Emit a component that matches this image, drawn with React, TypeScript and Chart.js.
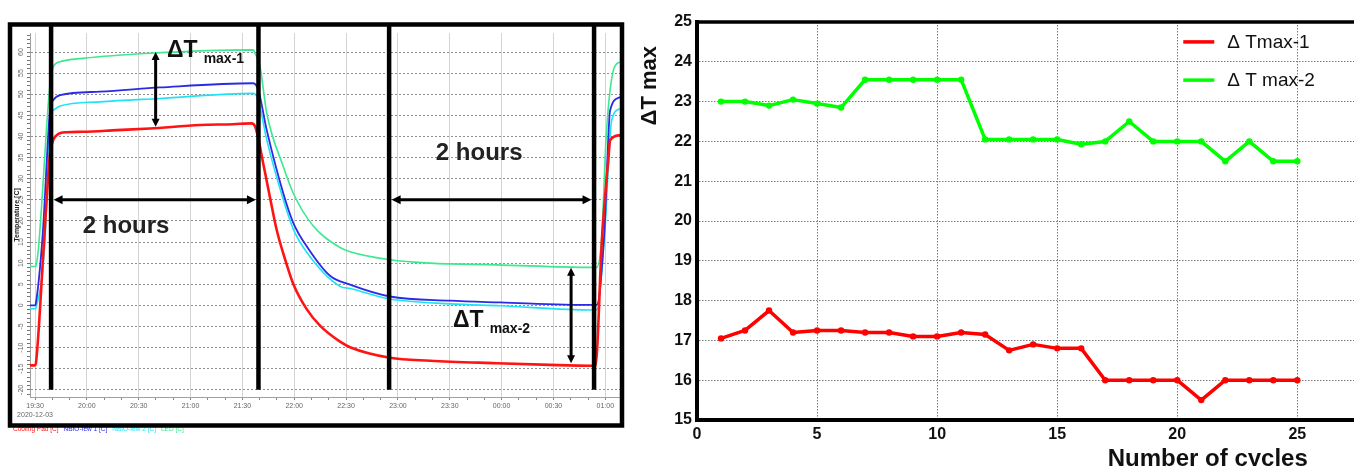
import React, { useEffect, useRef } from 'react';
import { Chart, registerables } from 'chart.js';

Chart.register(...registerables);

const FONT = '"Liberation Sans", Arial, Helvetica, sans-serif';
const NARROW = '"Liberation Sans Narrow", "Liberation Sans", Arial, sans-serif';

// ---------- Left panel: temperature log (minutes after 19:30) ----------
const timeTickMinutes = [0, 30, 60, 90, 120, 150, 180, 210, 240, 270, 300, 330];
const timeTickLabels = ['19:30', '20:00', '20:30', '21:00', '21:30', '22:00', '22:30', '23:00', '23:30', '00:00', '00:30', '01:00'];
const dateLabel = '2020-12-03';
const tempTicks = [-20, -15, -10, -5, 0, 5, 10, 15, 20, 25, 30, 35, 40, 45, 50, 55, 60];
const seriesNames = ['Cooling Pad [C]', 'NBIO-few 1 [C]', 'NBIO-few 2 [C]', 'LED [C]'];
const seriesColors = ['#ff1414', '#2b2be6', '#1fe3f5', '#3de890'];

const redTimes = [-2.9, 0, 0.6, 5.2, 7.5, 8.7, 10.6, 13.5, 18.3, 27.8, 47.3, 66.6, 95.5, 114.6, 125.4, 127.3, 129.2, 132.1, 136, 139.9, 145.7, 149.5, 157.2, 164.9, 176.5, 182.3, 205.4, 228.6, 267.2, 298, 322.2, 324.3, 328.1, 331.7, 332.8, 338.5];
const redTemps = [-14.2, -14.2, -13.5, 15, 30, 36, 39.2, 40.6, 41.0, 41.1, 41.5, 41.9, 42.7, 42.9, 43.1, 42.4, 39.5, 33.5, 25.5, 17.8, 9.6, 5.0, -0.9, -4.8, -8.6, -9.9, -12.4, -13.1, -13.7, -14.1, -14.3, -14.2, 16, 34.4, 39.1, 40.3];

const blueTimes = [-2.9, 0, 0.4, 4.4, 8.7, 10.6, 14.5, 37.6, 72.3, 126.3, 129.2, 134.1, 143.7, 149.5, 157.2, 170.7, 182.3, 205.4, 240.2, 269.1, 322.2, 325, 329.4, 332.8, 338.5];
const blueTemps = [0, 0, 0.3, 16.5, 46.2, 48.6, 49.8, 50.6, 51.6, 52.6, 51, 41.5, 26.5, 19.5, 14, 7, 4.9, 2.1, 1.1, 0.7, 0.1, 0.1, 17, 46.2, 49.3];

const cyanTimes = [-2.9, 0, 0.6, 5.8, 8.7, 10.6, 14.5, 37.6, 72.3, 126.3, 129.2, 134.1, 143.7, 149.5, 157.2, 176.5, 182.3, 205.4, 240.2, 269.1, 322.2, 325, 329.5, 333.7, 338.5];
const cyanTemps = [-0.8, -0.8, -0.5, 15.5, 44.7, 46.2, 47.2, 48.2, 49, 50.2, 48.6, 39.2, 25, 18, 12.6, 4.5, 4.0, 1.5, 0.35, -0.1, -1.1, -1.1, 16, 43.9, 46.6];

const greenTimes = [-2.9, 0, 0.6, 1.9, 8.7, 10.6, 14.5, 27.8, 66.6, 126.3, 127.3, 130.2, 134.1, 143.7, 149.5, 161, 176.5, 182.3, 205.4, 228.6, 267.2, 322.2, 325, 327.9, 330.5, 334.7, 338.5];
const greenTemps = [9.2, 9.2, 9.5, 13.1, 52.6, 56.5, 57.7, 58.5, 59.7, 60.5, 59.7, 56.5, 45.5, 32.8, 26.5, 18.8, 13.7, 12.7, 10.8, 10, 9.6, 9.0, 9.0, 16, 40, 55.7, 57.7];

// annotations, in data units (minutes, degC)
const phaseMarkers = [9.3, 129.3, 204.9, 323.5];
const durationArrows = [{ from: 9.3, to: 129.3, temp: 25 }, { from: 204.9, to: 323.5, temp: 25 }];
const durationLabels = [{ text: '2 hours', t: 52.7, temp: 18.8 }, { text: '2 hours', t: 257, temp: 35.9 }];
const deltaArrows = [{ t: 69.8, from: 60, to: 42.3 }, { t: 310.2, from: 8.9, to: -13.7 }];
const deltaLabels = [{ sub: 'max-1', t: 76.4, temp: 58.8 }, { sub: 'max-2', t: 241.9, temp: -5.1 }];

// ---------- Right panel: delta T max vs cycles ----------
const cycles = [1, 2, 3, 4, 5, 6, 7, 8, 9, 10, 11, 12, 13, 14, 15, 16, 17, 18, 19, 20, 21, 22, 23, 24, 25];
const dTmax1 = [17.05, 17.25, 17.75, 17.2, 17.25, 17.25, 17.2, 17.2, 17.1, 17.1, 17.2, 17.15, 16.75, 16.9, 16.8, 16.8, 16.0, 16.0, 16.0, 16.0, 15.5, 16.0, 16.0, 16.0, 16.0];
const dTmax2 = [23.0, 23.0, 22.9, 23.05, 22.95, 22.85, 23.55, 23.55, 23.55, 23.55, 23.55, 22.05, 22.05, 22.05, 22.05, 21.93, 22.0, 22.5, 22.0, 22.0, 22.0, 21.5, 22.0, 21.5, 21.5];
const cycleTicks = [0, 5, 10, 15, 20, 25];
const deltaTicks = [15, 16, 17, 18, 19, 20, 21, 22, 23, 24, 25];
const rightLabels = ['\u0394 Tmax-1', '\u0394 T max-2'];
const rightColors = ['#ff0000', '#00ff00'];

function drawArrow(ctx: CanvasRenderingContext2D, x1: number, y1: number, x2: number, y2: number, head = 9, half = 4.5) {
  const a = Math.atan2(y2 - y1, x2 - x1);
  const c = Math.cos(a), s = Math.sin(a);
  ctx.beginPath();
  ctx.moveTo(x1 + c * head * 0.8, y1 + s * head * 0.8);
  ctx.lineTo(x2 - c * head * 0.8, y2 - s * head * 0.8);
  ctx.stroke();
  const heads: [number, number, number][] = [[x1, y1, a + Math.PI], [x2, y2, a]];
  heads.forEach(([px, py, ang]) => {
    const cc = Math.cos(ang), ss = Math.sin(ang);
    ctx.beginPath();
    ctx.moveTo(px, py);
    ctx.lineTo(px - head * cc + half * ss, py - head * ss - half * cc);
    ctx.lineTo(px - head * cc - half * ss, py - head * ss + half * cc);
    ctx.closePath();
    ctx.fill();
  });
}

const leftOverlay = {
  id: 'leftOverlay',
  afterDraw(chart: any) {
    const { ctx, chartArea: area } = chart;
    const x = chart.scales.x, y = chart.scales.y;
    ctx.save();
    // bottom legend
    ctx.font = `6.5px ${NARROW}`;
    ctx.textBaseline = 'middle';
    ctx.textAlign = 'left';
    let lx = area.left - 17;
    seriesNames.forEach((n, i) => {
      ctx.fillStyle = seriesColors[i];
      ctx.fillText(n, lx, area.bottom + 32.5);
      lx += ctx.measureText(n).width + 5;
    });
    // frame
    ctx.strokeStyle = '#000';
    ctx.lineWidth = 4.5;
    const fTop = area.top - 8.5;
    ctx.strokeRect(area.left - 20, fTop, area.right - area.left + 22, area.bottom - area.top + 37);
    // phase markers
    const markBottom = y.getPixelForValue(-20);
    phaseMarkers.forEach((t) => {
      const px = x.getPixelForValue(t);
      ctx.beginPath();
      ctx.moveTo(px, fTop);
      ctx.lineTo(px, markBottom);
      ctx.stroke();
    });
    // arrows
    ctx.fillStyle = '#000';
    ctx.lineWidth = 3;
    durationArrows.forEach((d) => {
      const py = y.getPixelForValue(d.temp);
      drawArrow(ctx, x.getPixelForValue(d.from) + 2.5, py, x.getPixelForValue(d.to) - 2.5, py);
    });
    deltaArrows.forEach((d) => {
      const px = x.getPixelForValue(d.t);
      drawArrow(ctx, px, y.getPixelForValue(d.from), px, y.getPixelForValue(d.to), 8, 4);
    });
    // texts
    ctx.fillStyle = '#222';
    ctx.font = `bold 24px ${FONT}`;
    ctx.textAlign = 'center';
    ctx.textBaseline = 'middle';
    durationLabels.forEach((l) => {
      ctx.fillText(l.text, x.getPixelForValue(l.t), y.getPixelForValue(l.temp));
    });
    ctx.fillStyle = '#111';
    ctx.textAlign = 'left';
    ctx.textBaseline = 'alphabetic';
    deltaLabels.forEach((l) => {
      const px = x.getPixelForValue(l.t), py = y.getPixelForValue(l.temp);
      ctx.font = `bold 23px ${FONT}`;
      ctx.fillText('\u0394T', px, py);
      const w = ctx.measureText('\u0394T').width;
      ctx.font = `bold 14px ${FONT}`;
      ctx.fillText(l.sub, px + w + 6, py + 6);
    });
    ctx.restore();
  },
};

const rightOverlay = {
  id: 'rightOverlay',
  afterDraw(chart: any) {
    const { ctx, chartArea: area } = chart;
    const x = chart.scales.x, y = chart.scales.y;
    ctx.save();
    // top border
    ctx.strokeStyle = '#000';
    ctx.lineWidth = 3.5;
    ctx.beginPath();
    ctx.moveTo(area.left, area.top);
    ctx.lineTo(area.right, area.top);
    ctx.stroke();
    // legend
    const lx = x.getPixelForValue(20.25);
    const rows = [y.getPixelForValue(24.5), y.getPixelForValue(23.54)];
    ctx.font = `19px ${FONT}`;
    ctx.textAlign = 'left';
    ctx.textBaseline = 'middle';
    rightLabels.forEach((lab, i) => {
      ctx.strokeStyle = rightColors[i];
      ctx.lineWidth = 3.5;
      ctx.beginPath();
      ctx.moveTo(lx, rows[i]);
      ctx.lineTo(lx + 31, rows[i]);
      ctx.stroke();
      ctx.fillStyle = '#111';
      ctx.fillText(lab, lx + 44, rows[i] + 1);
    });
    // axis titles
    ctx.fillStyle = '#111';
    ctx.font = `bold 22px ${FONT}`;
    ctx.textAlign = 'center';
    ctx.textBaseline = 'middle';
    ctx.save();
    ctx.translate(area.left - 47, y.getPixelForValue(23.4));
    ctx.rotate(-Math.PI / 2);
    ctx.fillText('\u0394T max', 0, 0);
    ctx.restore();
    ctx.font = `bold 24px ${FONT}`;
    ctx.textBaseline = 'alphabetic';
    ctx.fillText('Number of cycles', x.getPixelForValue(21.27), area.bottom + 46);
    ctx.restore();
  },
};

function LeftChart() {
  const ref = useRef<HTMLCanvasElement | null>(null);
  useEffect(() => {
    if (!ref.current) return;
    const mk = (ts: number[], vs: number[]) => ts.map((t, i) => ({ x: t, y: vs[i] }));
    const chart = new Chart(ref.current, {
      type: 'line',
      data: {
        datasets: [
          { label: seriesNames[0], data: mk(redTimes, redTemps), borderColor: seriesColors[0], borderWidth: 2.6 },
          { label: seriesNames[1], data: mk(blueTimes, blueTemps), borderColor: seriesColors[1], borderWidth: 1.8 },
          { label: seriesNames[2], data: mk(cyanTimes, cyanTemps), borderColor: seriesColors[2], borderWidth: 1.6 },
          { label: seriesNames[3], data: mk(greenTimes, greenTemps), borderColor: seriesColors[3], borderWidth: 1.6 },
        ].map((d) => ({ ...d, pointRadius: 0, cubicInterpolationMode: 'monotone' as const, fill: false })),
      },
      options: {
        animation: false,
        responsive: false,
        devicePixelRatio: 1,
        events: [],
        layout: { padding: { left: 10, right: 12, top: 33, bottom: 0 } },
        plugins: { legend: { display: false }, tooltip: { enabled: false } },
        scales: {
          x: {
            type: 'linear',
            min: -2.9,
            max: 338.5,
            afterBuildTicks: (s: any) => {
              const ticks: { value: number }[] = [];
              for (let m = 0; m <= 330; m += 10) ticks.push({ value: m });
              s.ticks = ticks;
            },
            afterFit: (s: any) => { s.height = 69; },
            grid: {
              color: (c: any) => (c.tick && timeTickMinutes.includes(c.tick.value) ? '#d4d4d4' : 'transparent'),
              tickColor: '#8a8a8a',
              tickLength: 3,
              lineWidth: 1,
            },
            border: { color: '#a0a0a0', width: 1 },
            ticks: {
              autoSkip: false,
              maxRotation: 0,
              minRotation: 0,
              padding: 2,
              color: '#666',
              font: { family: NARROW, size: 7 },
              callback: (v: any) => {
                const i = timeTickMinutes.indexOf(Number(v));
                if (i < 0) return '';
                return i === 0 ? [timeTickLabels[i], dateLabel] : timeTickLabels[i];
              },
            },
          },
          y: {
            type: 'linear',
            min: -21.7,
            max: 64.5,
            afterBuildTicks: (s: any) => {
              const ticks: { value: number }[] = [];
              for (let v = -21; v <= 64; v += 1) ticks.push({ value: v });
              s.ticks = ticks;
            },
            afterFit: (s: any) => { s.width = 20; },
            title: {
              display: true,
              text: 'Temperature [C]',
              color: '#222',
              font: { family: FONT, size: 7, weight: 'bold' },
              padding: { top: 3, bottom: 0 },
            },
            grid: {
              color: (c: any) => (c.tick && tempTicks.includes(c.tick.value) ? '#8f8f8f' : 'transparent'),
              tickColor: '#777',
              tickLength: 3,
              lineWidth: 1,
            },
            border: { color: '#a0a0a0', width: 1, dash: [2, 2] },
            ticks: {
              autoSkip: false,
              minRotation: 90,
              maxRotation: 90,
              crossAlign: 'center',
              padding: 1,
              color: '#666',
              font: { family: NARROW, size: 7 },
              callback: (v: any) => (tempTicks.includes(Number(v)) ? String(v) : ''),
            },
          },
        },
      },
      plugins: [leftOverlay],
    } as any);
    return () => chart.destroy();
  }, []);
  return <canvas ref={ref} width={632} height={466} style={{ position: 'absolute', left: 0, top: 0 }} />;
}

function RightChart() {
  const ref = useRef<HTMLCanvasElement | null>(null);
  useEffect(() => {
    if (!ref.current) return;
    const grid = { color: '#7a7a7a', lineWidth: 1, drawTicks: false };
    const border = { color: '#000', width: 4, dash: [1.5, 1.5] };
    const tickFont = { family: FONT, size: 16, weight: 'bold' };
    const chart = new Chart(ref.current, {
      type: 'line',
      data: {
        datasets: [
          { label: rightLabels[0], data: cycles.map((c, i) => ({ x: c, y: dTmax1[i] })), color: rightColors[0] },
          { label: rightLabels[1], data: cycles.map((c, i) => ({ x: c, y: dTmax2[i] })), color: rightColors[1] },
        ].map((d) => ({
          label: d.label,
          data: d.data,
          borderColor: d.color,
          backgroundColor: d.color,
          pointBackgroundColor: d.color,
          pointBorderColor: d.color,
          pointRadius: 3.2,
          pointBorderWidth: 0,
          borderWidth: 3.5,
          borderJoinStyle: 'round' as const,
          tension: 0,
          fill: false,
        })),
      },
      options: {
        animation: false,
        responsive: false,
        devicePixelRatio: 1,
        events: [],
        layout: { padding: { left: 0, right: 0, top: 22, bottom: 0 } },
        plugins: { legend: { display: false }, tooltip: { enabled: false } },
        scales: {
          x: {
            type: 'linear',
            min: 0,
            max: 27.86,
            afterBuildTicks: (s: any) => { s.ticks = cycleTicks.map((v) => ({ value: v })); },
            afterFit: (s: any) => { s.height = 60; },
            grid,
            border,
            ticks: { font: tickFont, color: '#111', padding: 5, maxRotation: 0, autoSkip: false },
          },
          y: {
            type: 'linear',
            min: 15,
            max: 25,
            afterBuildTicks: (s: any) => { s.ticks = deltaTicks.map((v) => ({ value: v })); },
            afterFit: (s: any) => { s.width = 67; },
            grid,
            border,
            ticks: { font: tickFont, color: '#111', padding: 5, autoSkip: false },
          },
        },
      },
      plugins: [rightOverlay],
    } as any);
    return () => chart.destroy();
  }, []);
  return <canvas ref={ref} width={740} height={480} style={{ position: 'absolute', left: 630, top: 0 }} />;
}

export default function App() {
  return (
    <div style={{ position: 'absolute', left: 0, top: 0, width: 1354, height: 466, overflow: 'hidden', background: '#fff' }}>
      <LeftChart />
      <RightChart />
    </div>
  );
}
